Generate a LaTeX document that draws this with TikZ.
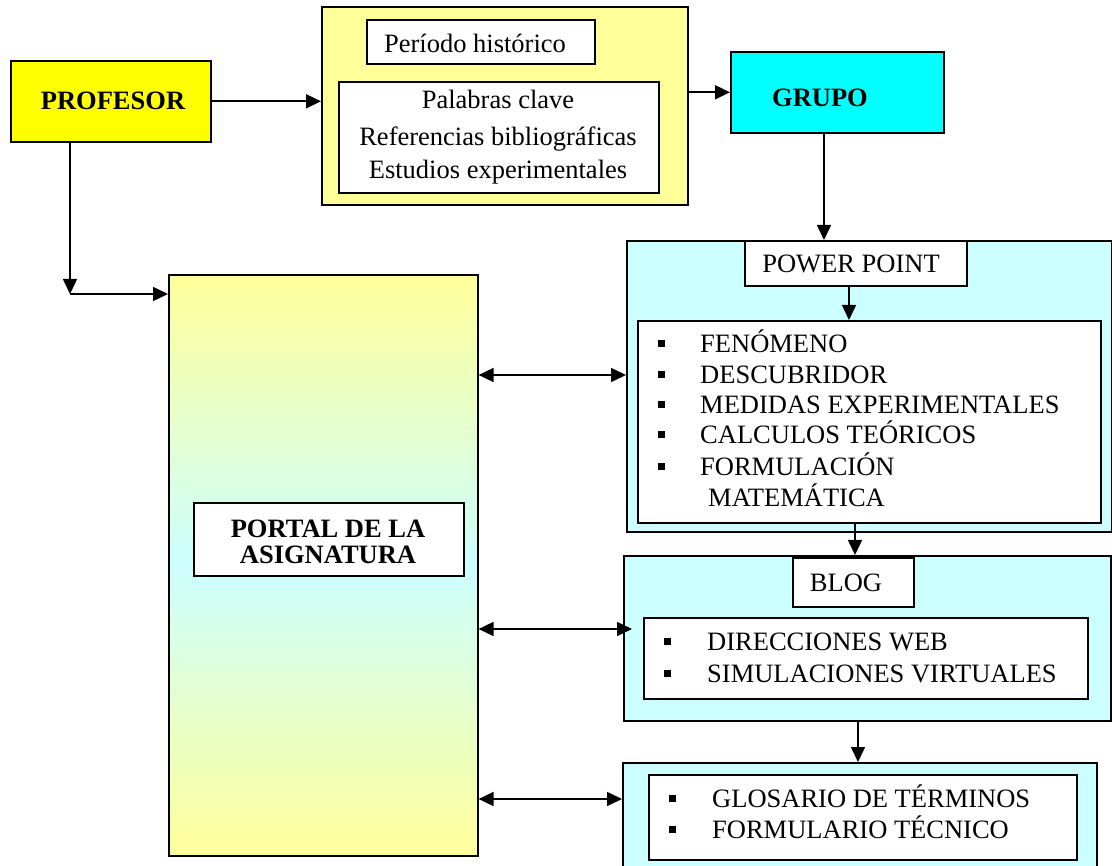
\documentclass[tikz,border=0pt]{standalone}
\usepackage{fontspec}
\setmainfont{Liberation Serif}
\usetikzlibrary{arrows.meta}
\definecolor{lyellow}{HTML}{FFFF99}
\definecolor{lcyan}{HTML}{CCFFFF}
\definecolor{pyellow}{HTML}{FFFF00}
\definecolor{pcyan}{HTML}{00FFFF}
\begin{document}
\begin{tikzpicture}[x=1pt,y=-1pt,
 box/.style={draw=black, line width=1.6pt, inner sep=0pt, anchor=north west},
 txt/.style={inner sep=0pt, anchor=base, font=\fontsize{26.5}{31}\selectfont},
 ltxt/.style={inner sep=0pt, anchor=base west, font=\fontsize{26.5}{31}\selectfont},
 btxt/.style={inner sep=0pt, anchor=base, font=\fontsize{26.5}{31}\selectfont\bfseries},
 conn/.style={line width=1.6pt, -{Triangle[length=15pt,width=14pt]}},
 dconn/.style={line width=1.6pt, {Triangle[length=15pt,width=14pt]}-{Triangle[length=15pt,width=14pt]}},
 bul/.style={fill=black, inner sep=0pt, minimum size=7pt, anchor=center}
]
\useasboundingbox (0,0) rectangle (1112,866);
\clip (0,0) rectangle (1112,866);

% PROFESOR
\node[box, fill=pyellow, minimum width=200pt, minimum height=81pt] (prof) at (10,60) {};
\node[btxt] (proft) at (113,110) {PROFESOR};

% top group
\node[box, fill=lyellow, minimum width=366pt, minimum height=198pt] (top) at (321,6) {};
\node[box, fill=white, minimum width=228pt, minimum height=44pt] (per) at (366,19) {};
\node[txt] (pert) at (475,53) {Período histórico};
\node[box, fill=white, minimum width=320pt, minimum height=111pt] (kw) at (338,81) {};
\node[txt] (kw1) at (498,109) {Palabras clave};
\node[txt] (kw2) at (498,146) {Referencias bibliográficas};
\node[txt] (kw3) at (498,179) {Estudios experimentales};

% GRUPO
\node[box, fill=pcyan, minimum width=213pt, minimum height=81pt] (grupo) at (730,51) {};
\node[btxt] (grupot) at (820,107) {GRUPO};

% PORTAL
\node[box, top color=lyellow, bottom color=lyellow, middle color=lcyan, minimum width=309pt, minimum height=581pt] (portal) at (168,274) {};
\node[box, fill=white, minimum width=270pt, minimum height=73pt] (portall) at (193,502) {};
\node[btxt] (portal1) at (328,537) {PORTAL DE LA};
\node[btxt] (portal2) at (328,564) {ASIGNATURA};

% POWER POINT group
\node[box, fill=lcyan, minimum width=485pt, minimum height=291pt] (pp) at (626,240) {};
\node[box, fill=white, minimum width=222pt, minimum height=45pt] (ppl) at (744,240) {};
\node[txt] (pplt) at (851,273) {POWER POINT};
\node[box, fill=white, minimum width=463pt, minimum height=202pt] (ppi) at (637,320) {};
\node[bul] (b1) at (661,344) {};
\node[ltxt] (i1) at (700,353) {FENÓMENO};
\node[bul] (b2) at (661,375) {};
\node[ltxt] (i2) at (700,384) {DESCUBRIDOR};
\node[bul] (b3) at (661,405) {};
\node[ltxt] (i3) at (700,414) {MEDIDAS EXPERIMENTALES};
\node[bul] (b4) at (661,435) {};
\node[ltxt] (i4) at (700,444) {CALCULOS TEÓRICOS};
\node[bul] (b5) at (661,467) {};
\node[ltxt] (i5) at (700,476) {FORMULACIÓN};
\node[ltxt] (i6) at (708,507) {MATEMÁTICA};

% BLOG group
\node[box, fill=lcyan, minimum width=487pt, minimum height=165pt] (blog) at (623,555) {};
\node[box, fill=white, minimum width=121pt, minimum height=49pt] (blogl) at (792,557) {};
\node[txt] (blogt) at (846,591) {BLOG};
\node[box, fill=white, minimum width=444pt, minimum height=81pt] (blogi) at (643,617) {};
\node[bul] (b6) at (667,641) {};
\node[ltxt] (j1) at (707,650) {DIRECCIONES WEB};
\node[bul] (b7) at (667,673) {};
\node[ltxt] (j2) at (707,682) {SIMULACIONES VIRTUALES};

% bottom group
\node[box, fill=lcyan, minimum width=474pt, minimum height=130pt] (bot) at (622,762) {};
\node[box, fill=white, minimum width=428pt, minimum height=85pt] (boti) at (648,774) {};
\node[bul] (b8) at (672,798) {};
\node[ltxt] (k1) at (712,807) {GLOSARIO DE TÉRMINOS};
\node[bul] (b9) at (672,829) {};
\node[ltxt] (k2) at (712,838) {FORMULARIO TÉCNICO};

% connectors
\coordinate (c1) at (70,294);
\draw[conn] (prof.east) -- (prof.east -| top.west);
\draw[conn] (grupo.west -| top.east) -- (grupo.west);
\draw[conn] (grupo.south -| 824,0) -- (pp.north -| 824,0);
\draw[conn] (prof.south -| 70,0) -- (c1);
\draw[conn] (c1) -- (portal.west |- c1);
\draw[conn] (ppl.south -| 849,0) -- (ppi.north -| 849,0);
\draw[conn] (ppi.south -| 855,0) -- (blog.north -| 855,0);
\draw[conn] (blog.south -| 858,0) -- (bot.north -| 858,0);
\draw[dconn] (portal.east |- 0,375) -- (pp.west |- 0,375);
\draw[dconn, shorten >=-9pt] (portal.east |- 0,629) -- (blog.west |- 0,629);
\draw[dconn] (portal.east |- 0,799) -- (bot.west |- 0,799);
\end{tikzpicture}
\end{document}
